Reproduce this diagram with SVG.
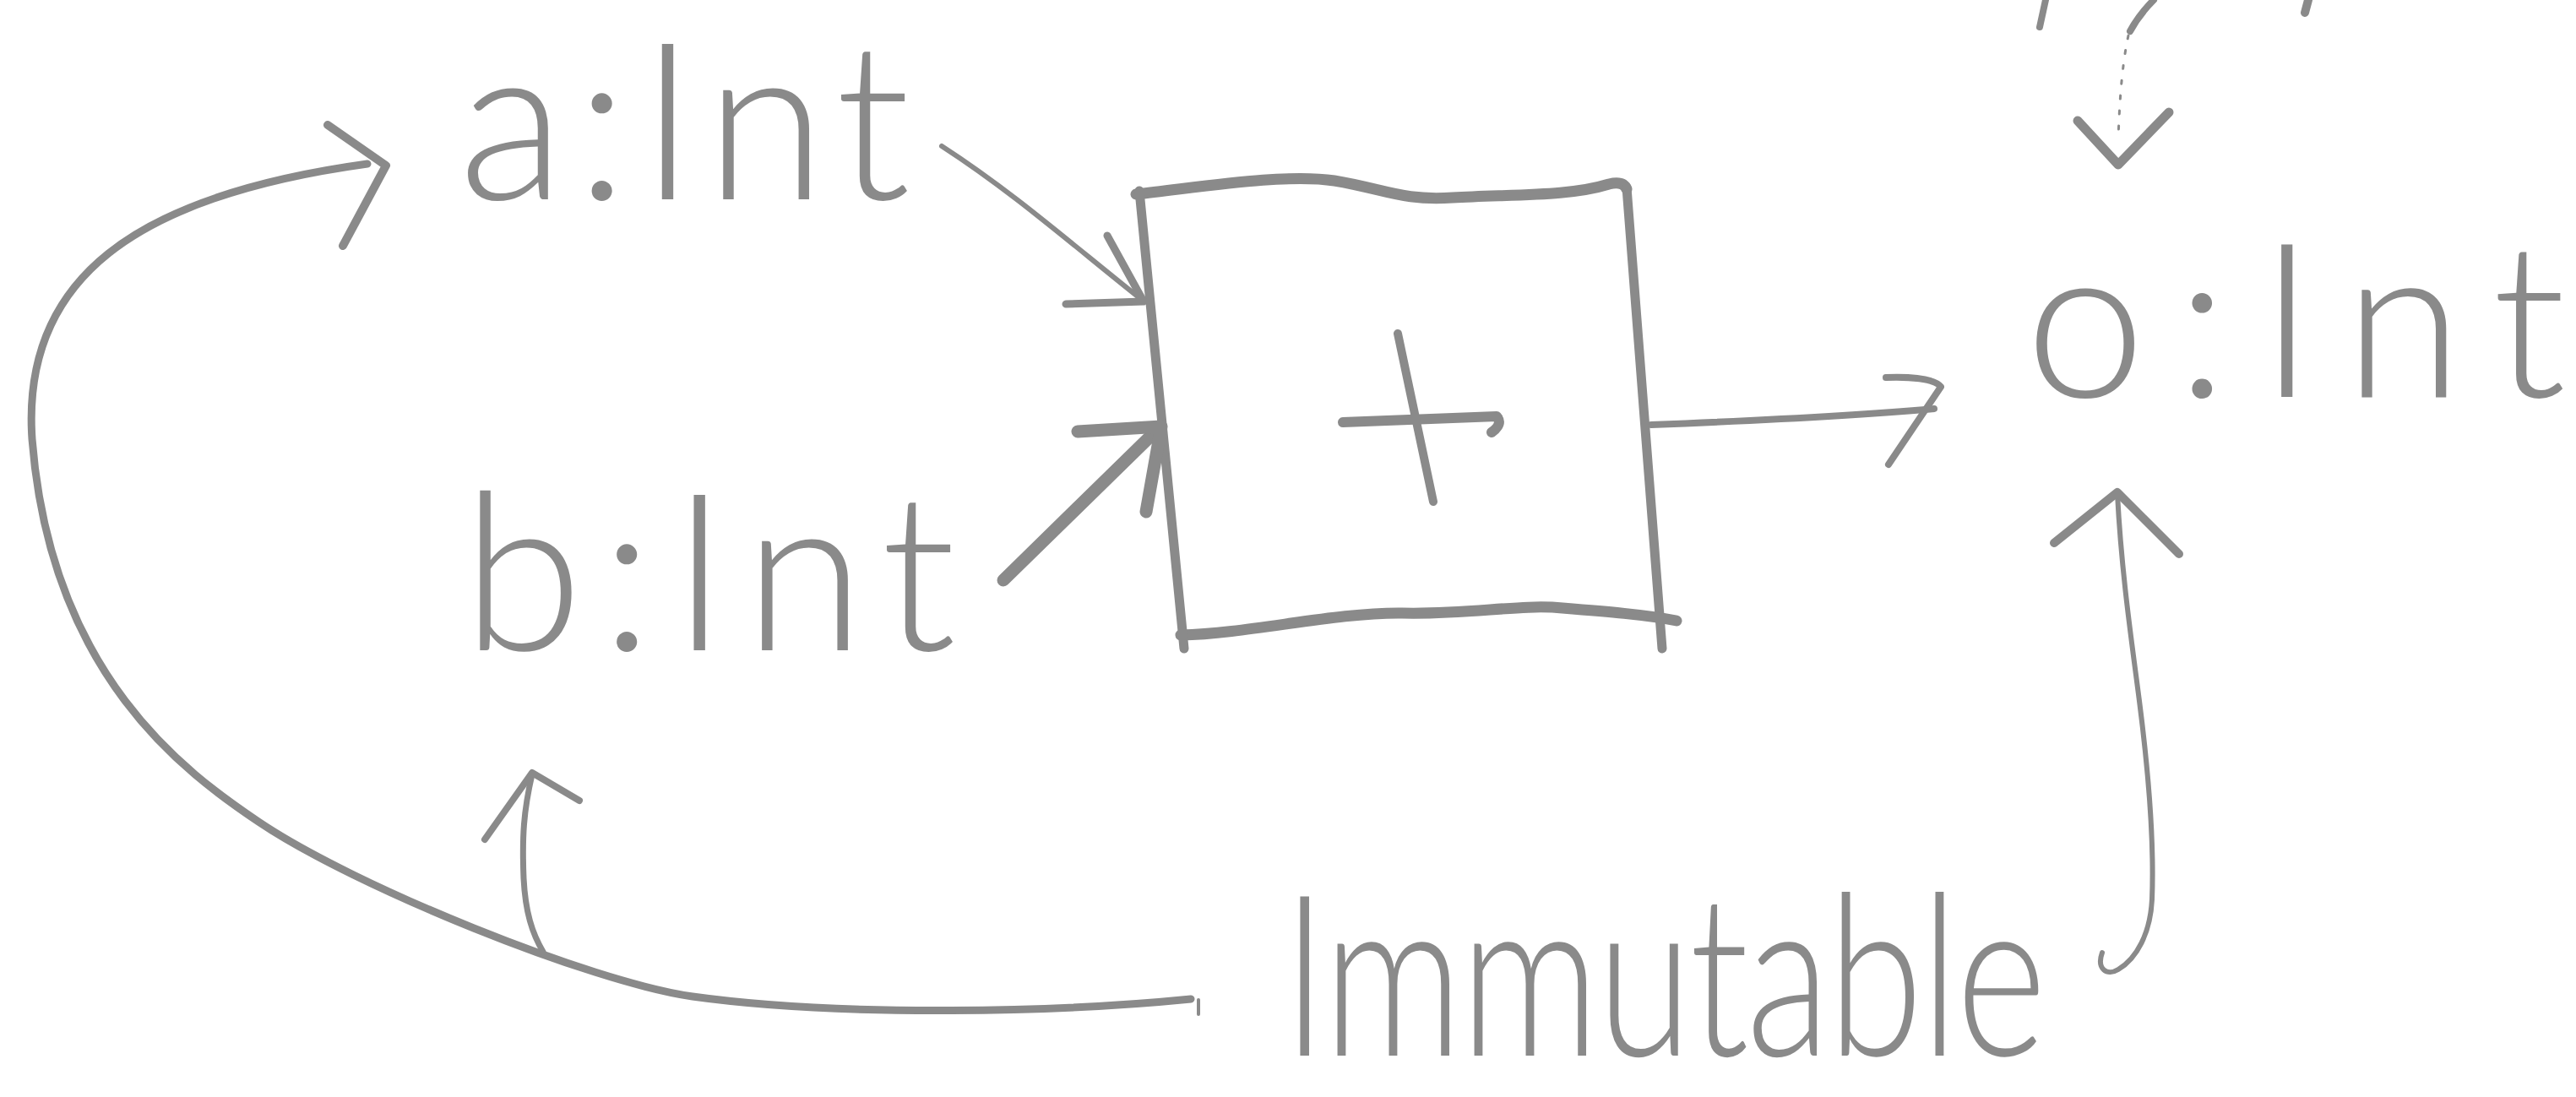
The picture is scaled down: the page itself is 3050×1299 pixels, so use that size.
<svg xmlns="http://www.w3.org/2000/svg" width="3050" height="1299" viewBox="0 0 3050 1299">
<style>
.ink{fill:none;stroke:#8a8a8a;stroke-linecap:round;stroke-linejoin:round}
.t{fill:#8a8a8a;font-family:Lato,"Liberation Sans",sans-serif;font-weight:300}
</style>
<rect width="3050" height="1299" fill="#ffffff"/>
<g id="node-a">
<text class="t" x="543" y="236" font-size="260" textLength="535" lengthAdjust="spacing">a:Int</text>
</g>
<g id="node-b">
<text class="t" x="547" y="770" font-size="260" textLength="585" lengthAdjust="spacing">b:Int</text>
</g>
<g id="node-plus">
<path class="ink" stroke-width="13" d="M1345,230 C1420,222 1520,205 1580,214 C1640,224 1660,238 1720,234 C1800,230 1860,232 1905,218 Q1922,214 1926,224"/>
<path class="ink" stroke-width="11" d="M1926,222 L1968,768"/>
<path class="ink" stroke-width="13" d="M1398,752 C1480,750 1580,725 1660,726 C1740,728 1800,715 1850,720 C1900,724 1950,728 1985,735"/>
<path class="ink" stroke-width="11" d="M1349,226 L1402,768"/>
<path class="ink" stroke-width="12" d="M1590,500 L1772,493 Q1780,502 1766,512"/>
<path class="ink" stroke-width="10" d="M1655,395 L1697,594"/>
</g>
<g id="node-o">
<text class="t" x="2398" y="470" font-size="255" textLength="640" lengthAdjust="spacing">o:Int</text>
</g>
<g id="node-immutable">
<text class="t" font-size="205" textLength="905" lengthAdjust="spacing" transform="translate(1518,1250) scale(1,1.3)">Immutable</text>
</g>
<g id="connectors">
<path class="ink" stroke-width="9" d="M1410,1183 C1260,1198 1000,1205 820,1180 C700,1163 420,1050 306,973 C220,915 60,800 38,520 C25,330 160,232 435,194"/>
<path class="ink" stroke-width="4" d="M1419,1184 L1419,1201"/>
<path class="ink" stroke-width="10" d="M388,148 L457,196 L406,291"/>
<path class="ink" stroke-width="7" d="M643,1127 C630,1105 622,1080 620,1040 C618,990 620,960 630,917"/>
<path class="ink" stroke-width="8" d="M574,994 L630,915 L686,948"/>
<path class="ink" stroke-width="6" d="M1115,173 C1200,228 1270,290 1352,355"/>
<path class="ink" stroke-width="9" d="M1311,279 L1354,357 L1262,360"/>
<path class="ink" stroke-width="15" d="M1188,687 L1372,507"/>
<path class="ink" stroke-width="15" d="M1276,511 L1375,505 L1357,606"/>
<path class="ink" stroke-width="8" d="M1955,503 C2080,498 2200,492 2290,484"/>
<path class="ink" stroke-width="8" d="M2233,447 C2260,446 2290,448 2298,458 L2236,550"/>
<path class="ink" stroke-width="6" d="M2489,1128 C2482,1148 2495,1156 2508,1148 C2530,1135 2546,1105 2548,1065 C2551,990 2542,900 2533,830 C2524,760 2512,680 2507,585"/>
<path class="ink" stroke-width="10" d="M2432,643 L2507,583 L2580,656"/>
<path class="ink" stroke-width="8" d="M2550,0 C2540,10 2530,22 2522,37"/>
<path class="ink" stroke-width="3" stroke-dasharray="4 14" d="M2520,42 C2514,70 2510,105 2508,165"/>
<path class="ink" stroke-width="11" d="M2460,143 L2508,195 L2568,133"/>
<path class="ink" stroke-width="8" d="M2422,0 L2415,32"/>
<path class="ink" stroke-width="10" d="M2733,0 L2729,15"/>
</g>
</svg>
